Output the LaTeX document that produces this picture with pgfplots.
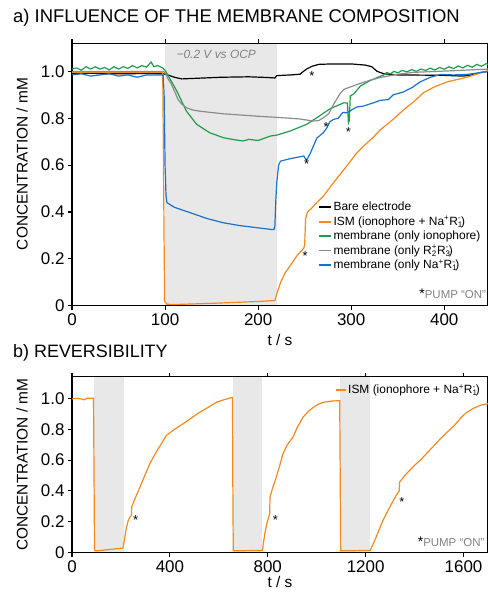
\documentclass[border=0pt]{standalone}
\usepackage{fontspec}
\setmainfont{Liberation Sans}
\usepackage{pgfplots}
\pgfplotsset{compat=1.18}

\definecolor{cOrange}{RGB}{242,138,28}
\definecolor{cGreen}{RGB}{30,158,75}
\definecolor{cGray}{RGB}{140,140,140}
\definecolor{cBlue}{RGB}{25,115,200}
\definecolor{cShade}{RGB}{232,232,232}
\definecolor{cText}{RGB}{130,130,130}

\newcommand{\NaR}{Na\textsuperscript{+}R\rlap{\textsubscript{1}}\textsuperscript{-}}
\newcommand{\RR}{R\rlap{\textsubscript{2}}\textsuperscript{+}R\rlap{\textsubscript{3}}\textsuperscript{-}}

\tikzset{starnode/.style={inner sep=0pt, yshift=-3bp, font=\fontsize{13}{13}\selectfont}}

\pgfplotsset{
  myaxis/.style={
    scale only axis, width=416bp, set layers,
    axis line style={line width=1.2bp},
    every tick/.style={line width=1.1bp, black},
    major tick length=4bp, tick align=outside,
    tick label style={font=\fontsize{17}{17}\selectfont},
    label style={font=\fontsize{15.5}{16}\selectfont},
    every axis plot/.append style={line width=1.2bp},
    clip mode=individual,
    legend cell align=left,
  },
}

\begin{document}
\begin{tikzpicture}
\node[anchor=west, font=\fontsize{18.5}{19}\selectfont, inner sep=0pt] at (13bp,575bp) {a) INFLUENCE OF THE MEMBRANE COMPOSITION};
\node[anchor=west, font=\fontsize{18}{19}\selectfont, inner sep=0pt] at (13bp,240bp) {b) REVERSIBILITY};

% ---------------- panel a
\begin{axis}[myaxis,
  at={(72bp,287.3bp)}, anchor=south west, height=262.4bp,
  xmin=0, xmax=447, ymin=0, ymax=1.12,
  xtick={0,100,200,300,400}, xticklabels={0,100,200,300,400},
  ytick={0,0.2,0.4,0.6,0.8,1.0}, yticklabels={0,0.2,0.4,0.6,0.8,1.0},
  xlabel={t / s}, ylabel={CONCENTRATION / mM},
  xlabel style={at={(axis description cs:0.5,-0.13)}, anchor=center},
  ylabel style={at={(axis description cs:-0.12,0.54)}, anchor=center},
  legend image code/.code={\draw[#1, line width=1.8bp] (0bp,0bp) -- (12bp,0bp);},
  legend style={draw=none, fill=none, at={(axis description cs:0.585,0.408)}, anchor=north west,
    font=\fontsize{12}{13}\selectfont, row sep=1.8bp,
    nodes={inner sep=1.2bp}},
]
\addplot[draw=none, fill=cShade, forget plot, on layer=axis background] coordinates {(100,1.12) (220,1.12)} \closedcycle;

% Bare electrode
\addplot[black] coordinates {
(0,0.99)(20,0.992)(40,0.99)(60,0.99)(80,0.991)(98,0.99)(103,0.985)(110,0.975)(118,0.968)(130,0.97)(160,0.975)(190,0.977)(210,0.974)(218,0.972)(220,0.982)(235,0.985)(245,0.988)(248,0.998)(252,1.01)(258,1.022)(265,1.03)(280,1.032)(300,1.032)(315,1.027)(322,1.02)(328,1.0)(335,0.99)(350,0.985)(380,0.984)(400,0.983)(420,0.98)(430,0.985)(440,0.996)(447,1.0)};
% ISM
\addplot[cOrange] coordinates {
(0,0.995)(50,0.995)(97.5,0.995)(98.5,0.5)(99.5,0.02)(102,0.006)(110,0.005)(150,0.01)(200,0.018)(218,0.022)(220,0.05)(224,0.098)(229,0.14)(234,0.168)(242,0.215)(249,0.245)(250,0.26)(251,0.37)(253,0.4)(256,0.41)(263,0.44)(270,0.467)(280,0.52)(292,0.58)(306,0.652)(313,0.68)(324,0.72)(331,0.75)(345,0.795)(356,0.835)(367,0.87)(378,0.91)(390,0.935)(403,0.955)(424,0.975)(440,0.995)(447,1.003)};
% only ionophore
\addplot[cGreen] coordinates {
(0,1.01)(5,1.015)(10,1.005)(15,1.02)(20,1.01)(25,1.02)(30,1.01)(35,1.017)(40,1.006)(45,1.02)(50,1.01)(55,1.02)(60,1.013)(65,1.025)(70,1.015)(75,1.025)(80,1.018)(85,1.04)(88,1.02)(92,1.025)(97,1.016)(100,1.005)(105,0.97)(112.5,0.917)(123,0.83)(134,0.774)(148,0.738)(162.7,0.717)(175,0.708)(184,0.703)(190,0.71)(200,0.705)(213,0.724)(220,0.728)(234,0.745)(252,0.774)(263,0.802)(277,0.84)(292,0.866)(296,0.865)(297,0.78)(298,0.79)(299,0.895)(303,0.905)(310,0.938)(320,0.96)(328,0.974)(335,0.985)(338,0.995)(342,0.99)(346,1.0)(350,0.994)(355,1.004)(360,0.998)(365,1.008)(370,1.0)(375,1.01)(380,1.004)(385,1.014)(390,1.006)(395,1.017)(400,1.009)(405,1.02)(410,1.012)(415,1.023)(420,1.015)(425,1.026)(430,1.018)(435,1.03)(440,1.022)(445,1.033)(447,1.03)};
% only R2R3
\addplot[cGray] coordinates {
(0,1.0)(50,1.0)(98,1.0)(100,0.995)(103,0.97)(107,0.944)(114,0.88)(118,0.86)(123,0.845)(130,0.835)(137.6,0.83)(162.7,0.819)(198.6,0.809)(223.6,0.803)(245,0.797)(259,0.788)(265,0.79)(270,0.802)(276,0.82)(281,0.859)(288,0.905)(292,0.923)(306,0.944)(320,0.962)(331,0.974)(350,0.988)(367,0.996)(410,1.003)(447,1.01)};
% only NaR1
\addplot[cBlue] coordinates {
(0,0.985)(10,0.99)(20,0.98)(30,0.985)(40,0.99)(50,0.98)(60,0.985)(70,0.975)(80,0.985)(90,0.985)(98,0.985)(99,0.9)(100,0.6)(101,0.47)(102,0.44)(110,0.42)(127,0.397)(145,0.372)(162.7,0.354)(180,0.342)(198.6,0.333)(214.7,0.325)(217,0.325)(218,0.34)(219,0.45)(220,0.524)(222,0.6)(224,0.617)(234,0.627)(249,0.639)(252,0.62)(256,0.65)(263,0.715)(270,0.738)(274,0.76)(277,0.785)(281,0.795)(286,0.8)(291,0.825)(295,0.823)(306,0.848)(313,0.852)(324,0.866)(331,0.876)(340,0.88)(345,0.9)(356,0.912)(365,0.93)(374,0.955)(385,0.975)(396,0.987)(410,0.985)(424,0.987)(435,0.993)(447,1.0)};
\legend{Bare electrode, ISM (ionophore + \NaR), membrane (only ionophore), membrane (only \RR), membrane (only \NaR)}

\node[font=\itshape\fontsize{12}{12}\selectfont, text=cText] at (axis cs:155,1.074) {−0.2 V vs OCP};
\node[anchor=east, inner sep=0pt] at (axis cs:445,0.05) {{\fontsize{14}{14}\selectfont *}{\fontsize{11.5}{12}\selectfont\color{cText}PUMP “ON”}};
\node[starnode] at (axis cs:257.7,0.991) {*};
\node[starnode] at (axis cs:252,0.617) {*};
\node[starnode] at (axis cs:250.5,0.224) {*};
\node[starnode] at (axis cs:273,0.774) {*};
\node[starnode] at (axis cs:297,0.753) {*};
\end{axis}

% ---------------- panel b
\begin{axis}[myaxis,
  at={(72bp,40.3bp)}, anchor=south west, height=176bp,
  xmin=0, xmax=1700, ymin=0, ymax=1.14,
  xtick={0,400,800,1200,1600}, xticklabels={0,400,800,1200,1600},
  ytick={0,0.2,0.4,0.6,0.8,1.0}, yticklabels={0,0.2,0.4,0.6,0.8,1.0},
  xlabel={t / s}, ylabel={CONCENTRATION / mM},
  xlabel style={at={(axis description cs:0.5,-0.165)}, anchor=center},
  ylabel style={at={(axis description cs:-0.12,0.5)}, anchor=center},
  legend image code/.code={\draw[#1, line width=1.8bp] (0bp,0bp) -- (10bp,0bp);},
  legend style={draw=none, fill=none, at={(axis description cs:0.625,0.975)}, anchor=north west,
    font=\fontsize{12}{13}\selectfont,
    nodes={inner sep=1.2bp}},
]
\addplot[draw=none, fill=cShade, forget plot, on layer=axis background] coordinates {(90,1.14) (212,1.14)} \closedcycle;
\addplot[draw=none, fill=cShade, forget plot, on layer=axis background] coordinates {(656,1.14) (778,1.14)} \closedcycle;
\addplot[draw=none, fill=cShade, forget plot, on layer=axis background] coordinates {(1096,1.14) (1219,1.14)} \closedcycle;
\addplot[cOrange] coordinates {
(0,0.996)(20,1.0)(40,0.995)(50,0.99)(60,1.0)(80,1.0)(88,1.0)(90,0.5)(92,0.02)(95,0.012)(120,0.015)(160,0.022)(208,0.03)(212,0.06)(216,0.103)(222,0.16)(230,0.21)(238,0.235)(243,0.243)(244,0.297)(260,0.36)(278,0.426)(300,0.51)(318,0.577)(340,0.64)(359,0.69)(386,0.76)(420,0.8)(454,0.835)(490,0.875)(522,0.91)(555,0.94)(590,0.974)(620,0.99)(654,1.006)(656,1.005)(657,0.5)(659,0.015)(662,0.012)(700,0.013)(778,0.015)(782,0.06)(788,0.125)(798,0.2)(808,0.254)(809,0.36)(820,0.42)(835,0.49)(848,0.56)(862,0.64)(880,0.7)(903,0.748)(920,0.81)(944,0.877)(965,0.915)(985,0.94)(1005,0.96)(1026,0.974)(1060,0.982)(1094,0.985)(1096,0.5)(1098,0.013)(1150,0.013)(1219,0.015)(1240,0.09)(1271,0.21)(1300,0.3)(1325,0.372)(1337,0.4)(1339,0.458)(1360,0.5)(1393,0.555)(1430,0.61)(1461,0.663)(1495,0.72)(1529,0.775)(1560,0.82)(1590,0.875)(1610,0.905)(1640,0.935)(1670,0.955)(1700,0.965)};
\legend{ISM (ionophore + \NaR)}
\node[anchor=east, inner sep=0pt] at (axis cs:1686,0.07) {{\fontsize{14}{14}\selectfont *}{\fontsize{11.5}{12}\selectfont\color{cText}PUMP “ON”}};
\node[starnode] at (axis cs:260,0.233) {*};
\node[starnode] at (axis cs:831,0.233) {*};
\node[starnode] at (axis cs:1348,0.348) {*};
\end{axis}
\pgfresetboundingbox
\useasboundingbox (0,0) rectangle (488bp,593bp);
\end{tikzpicture}
\end{document}
